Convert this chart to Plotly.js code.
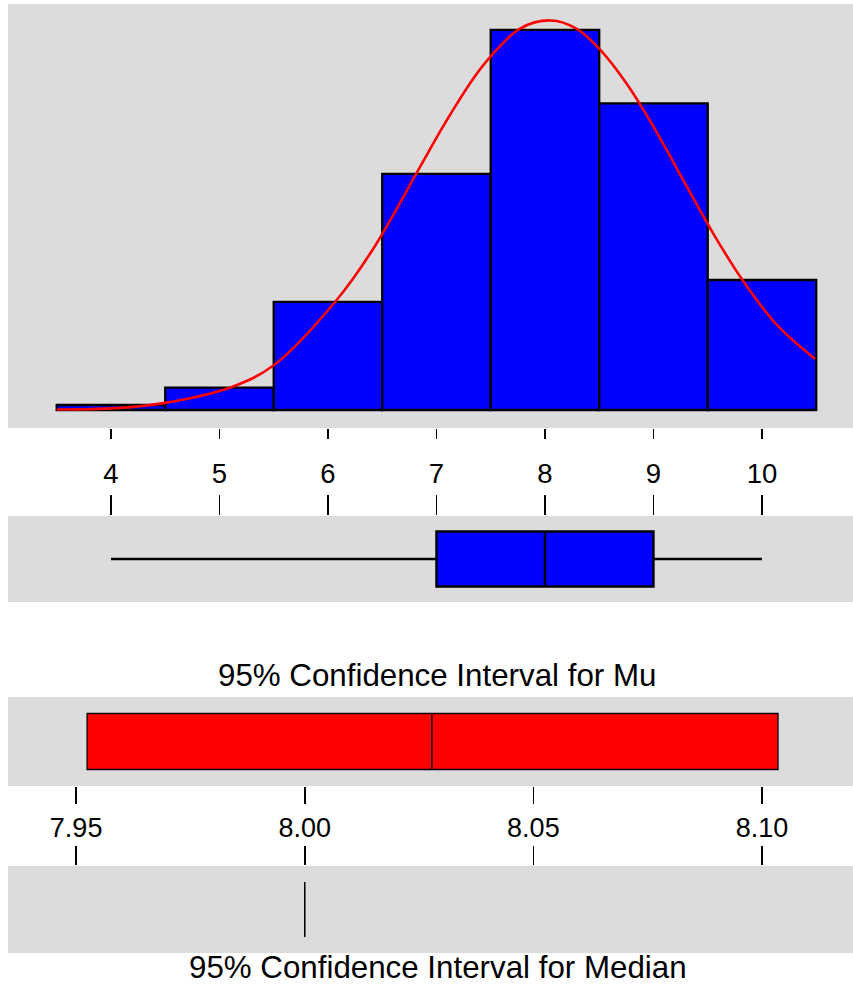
<!DOCTYPE html>
<html>
<head>
<meta charset="utf-8">
<script src="https://cdn.plot.ly/plotly-3.0.1.min.js"></script>
<style>html,body{margin:0;padding:0;background:#fff;}#chart{width:853px;height:984px;}</style>
</head>
<body>
<div id="chart"></div>
<script>
// Histogram
var binCenters = [4, 5, 6, 7, 8, 9, 10];
var binCounts = [1.05, 4.7, 22.7, 49.6, 79.8, 64.4, 27.3];
// Fitted normal curve
var curveX = [3.5, 4.05, 4.5, 5.12, 5.5, 6.08, 6.41, 6.85, 7.06, 7.34, 7.51, 7.77, 8.05, 8.29, 8.51, 8.75, 9.00, 9.24, 9.55, 9.82, 10.14, 10.49];
var curveY = [0.1, 0.4, 1.5, 4.9, 9.4, 23.1, 33.6, 51.1, 59.5, 69.6, 74.5, 80.1, 81.8, 80.1, 75.6, 68.6, 59.5, 49.7, 37.1, 27.3, 17.8, 10.7];
// Boxplot summary
var boxMin = 4, boxQ1 = 7, boxMedian = 8, boxQ3 = 9, boxMax = 10;
// 95% CI for mean
var muLow = 7.9524, muMean = 8.0278, muHigh = 8.1035;
// 95% CI for median
var medLow = 8.0, medHigh = 8.0;
// Tick labels
var topTicks = [4, 5, 6, 7, 8, 9, 10];
var ciTicks = [7.95, 8.00, 8.05, 8.10];
var ciTickText = ['7.95', '8.00', '8.05', '8.10'];
var titleMu = '95% Confidence Interval for Mu';
var titleMedian = '95% Confidence Interval for Median';

var FONT = 'Liberation Sans, Arial, Helvetica, sans-serif';
var H = 984;
function py(p) { return 1 - p / H; }

var traces = [
  {type: 'bar', x: binCenters, y: binCounts, width: 1,
   marker: {color: '#0000ff', line: {color: '#000', width: 2.3}},
   xaxis: 'x', yaxis: 'y', hoverinfo: 'skip'},
  {type: 'scatter', mode: 'lines', x: curveX, y: curveY,
   line: {color: '#ff0000', width: 2.6, shape: 'spline', smoothing: 1},
   xaxis: 'x', yaxis: 'y', hoverinfo: 'skip'},
  {type: 'box', orientation: 'h', y: [0], q1: [boxQ1], median: [boxMedian], q3: [boxQ3],
   lowerfence: [boxMin], upperfence: [boxMax], width: 1, whiskerwidth: 0,
   fillcolor: '#0000ff', line: {color: '#000', width: 2.4}, boxpoints: false,
   xaxis: 'x2', yaxis: 'y2', hoverinfo: 'skip'},
  {type: 'box', orientation: 'h', y: [0], q1: [muLow], median: [muMean], q3: [muHigh],
   lowerfence: [muLow], upperfence: [muHigh], width: 1, whiskerwidth: 0,
   fillcolor: '#ff0000', line: {color: '#000', width: 1.3}, boxpoints: false,
   xaxis: 'x3', yaxis: 'y3', hoverinfo: 'skip'},
  {type: 'box', orientation: 'h', y: [0], q1: [medLow], median: [medLow], q3: [medHigh],
   lowerfence: [medLow], upperfence: [medHigh], width: 1, whiskerwidth: 0,
   fillcolor: 'rgba(0,0,0,0)', line: {color: '#000', width: 1.5}, boxpoints: false,
   xaxis: 'x4', yaxis: 'y4', hoverinfo: 'skip'}
];

var topRange = [3.051, 10.839];
var ciRange = [7.9351, 8.1199];
var hidY = {showticklabels: false, showgrid: false, zeroline: false, ticks: '', showline: false, fixedrange: true};

var layout = {
  width: 853, height: 984,
  margin: {l: 8, r: 0, t: 0, b: 0, pad: 0},
  paper_bgcolor: '#ffffff',
  plot_bgcolor: '#dcdcdc',
  showlegend: false,
  font: {family: FONT, color: '#000'},
  bargap: 0,
  xaxis: {domain: [0, 1], anchor: 'y', range: topRange, tickvals: topTicks,
          ticks: 'outside', ticklen: 10, tickwidth: 1.5, tickcolor: '#000',
          ticklabelstandoff: 11, tickfont: {size: 27.5, family: FONT},
          showgrid: false, zeroline: false, showline: false},
  yaxis: Object.assign({domain: [py(428), py(4)], anchor: 'x', range: [-3.78, 85.25]}, hidY),
  xaxis2: {domain: [0, 1], anchor: 'y2', side: 'top', range: topRange, tickvals: topTicks,
           ticks: 'outside', ticklen: 20, tickwidth: 1.5, tickcolor: '#000',
           showticklabels: false, showgrid: false, zeroline: false, showline: false},
  yaxis2: Object.assign({domain: [py(602), py(516)], anchor: 'x2', range: [-0.78, 0.78]}, hidY),
  xaxis3: {domain: [0, 1], anchor: 'y3', range: ciRange, tickvals: ciTicks, ticktext: ciTickText,
           ticks: 'outside', ticklen: 17, tickwidth: 1.5, tickcolor: '#000',
           ticklabelstandoff: 1, tickfont: {size: 27, family: FONT},
           showgrid: false, zeroline: false, showline: false},
  yaxis3: Object.assign({domain: [py(786), py(697)], anchor: 'x3', range: [-0.795, 0.795]}, hidY),
  xaxis4: {domain: [0, 1], anchor: 'y4', side: 'top', range: ciRange, tickvals: ciTicks,
           ticks: 'outside', ticklen: 19, tickwidth: 1.5, tickcolor: '#000',
           showticklabels: false, showgrid: false, zeroline: false, showline: false},
  yaxis4: Object.assign({domain: [py(953), py(866)], anchor: 'x4', range: [-0.79, 0.79]}, hidY),
  annotations: [
    {xref: 'paper', yref: 'paper', x: (437.5 - 8) / 845, y: py(675), xanchor: 'center', yanchor: 'middle',
     text: titleMu, showarrow: false, font: {size: 31.3, family: FONT, color: '#000'}},
    {xref: 'paper', yref: 'paper', x: (438 - 8) / 845, y: py(967), xanchor: 'center', yanchor: 'middle',
     text: titleMedian, showarrow: false, font: {size: 31.3, family: FONT, color: '#000'}}
  ]
};

Plotly.newPlot('chart', traces, layout, {staticPlot: true, displayModeBar: false});
</script>
</body>
</html>
